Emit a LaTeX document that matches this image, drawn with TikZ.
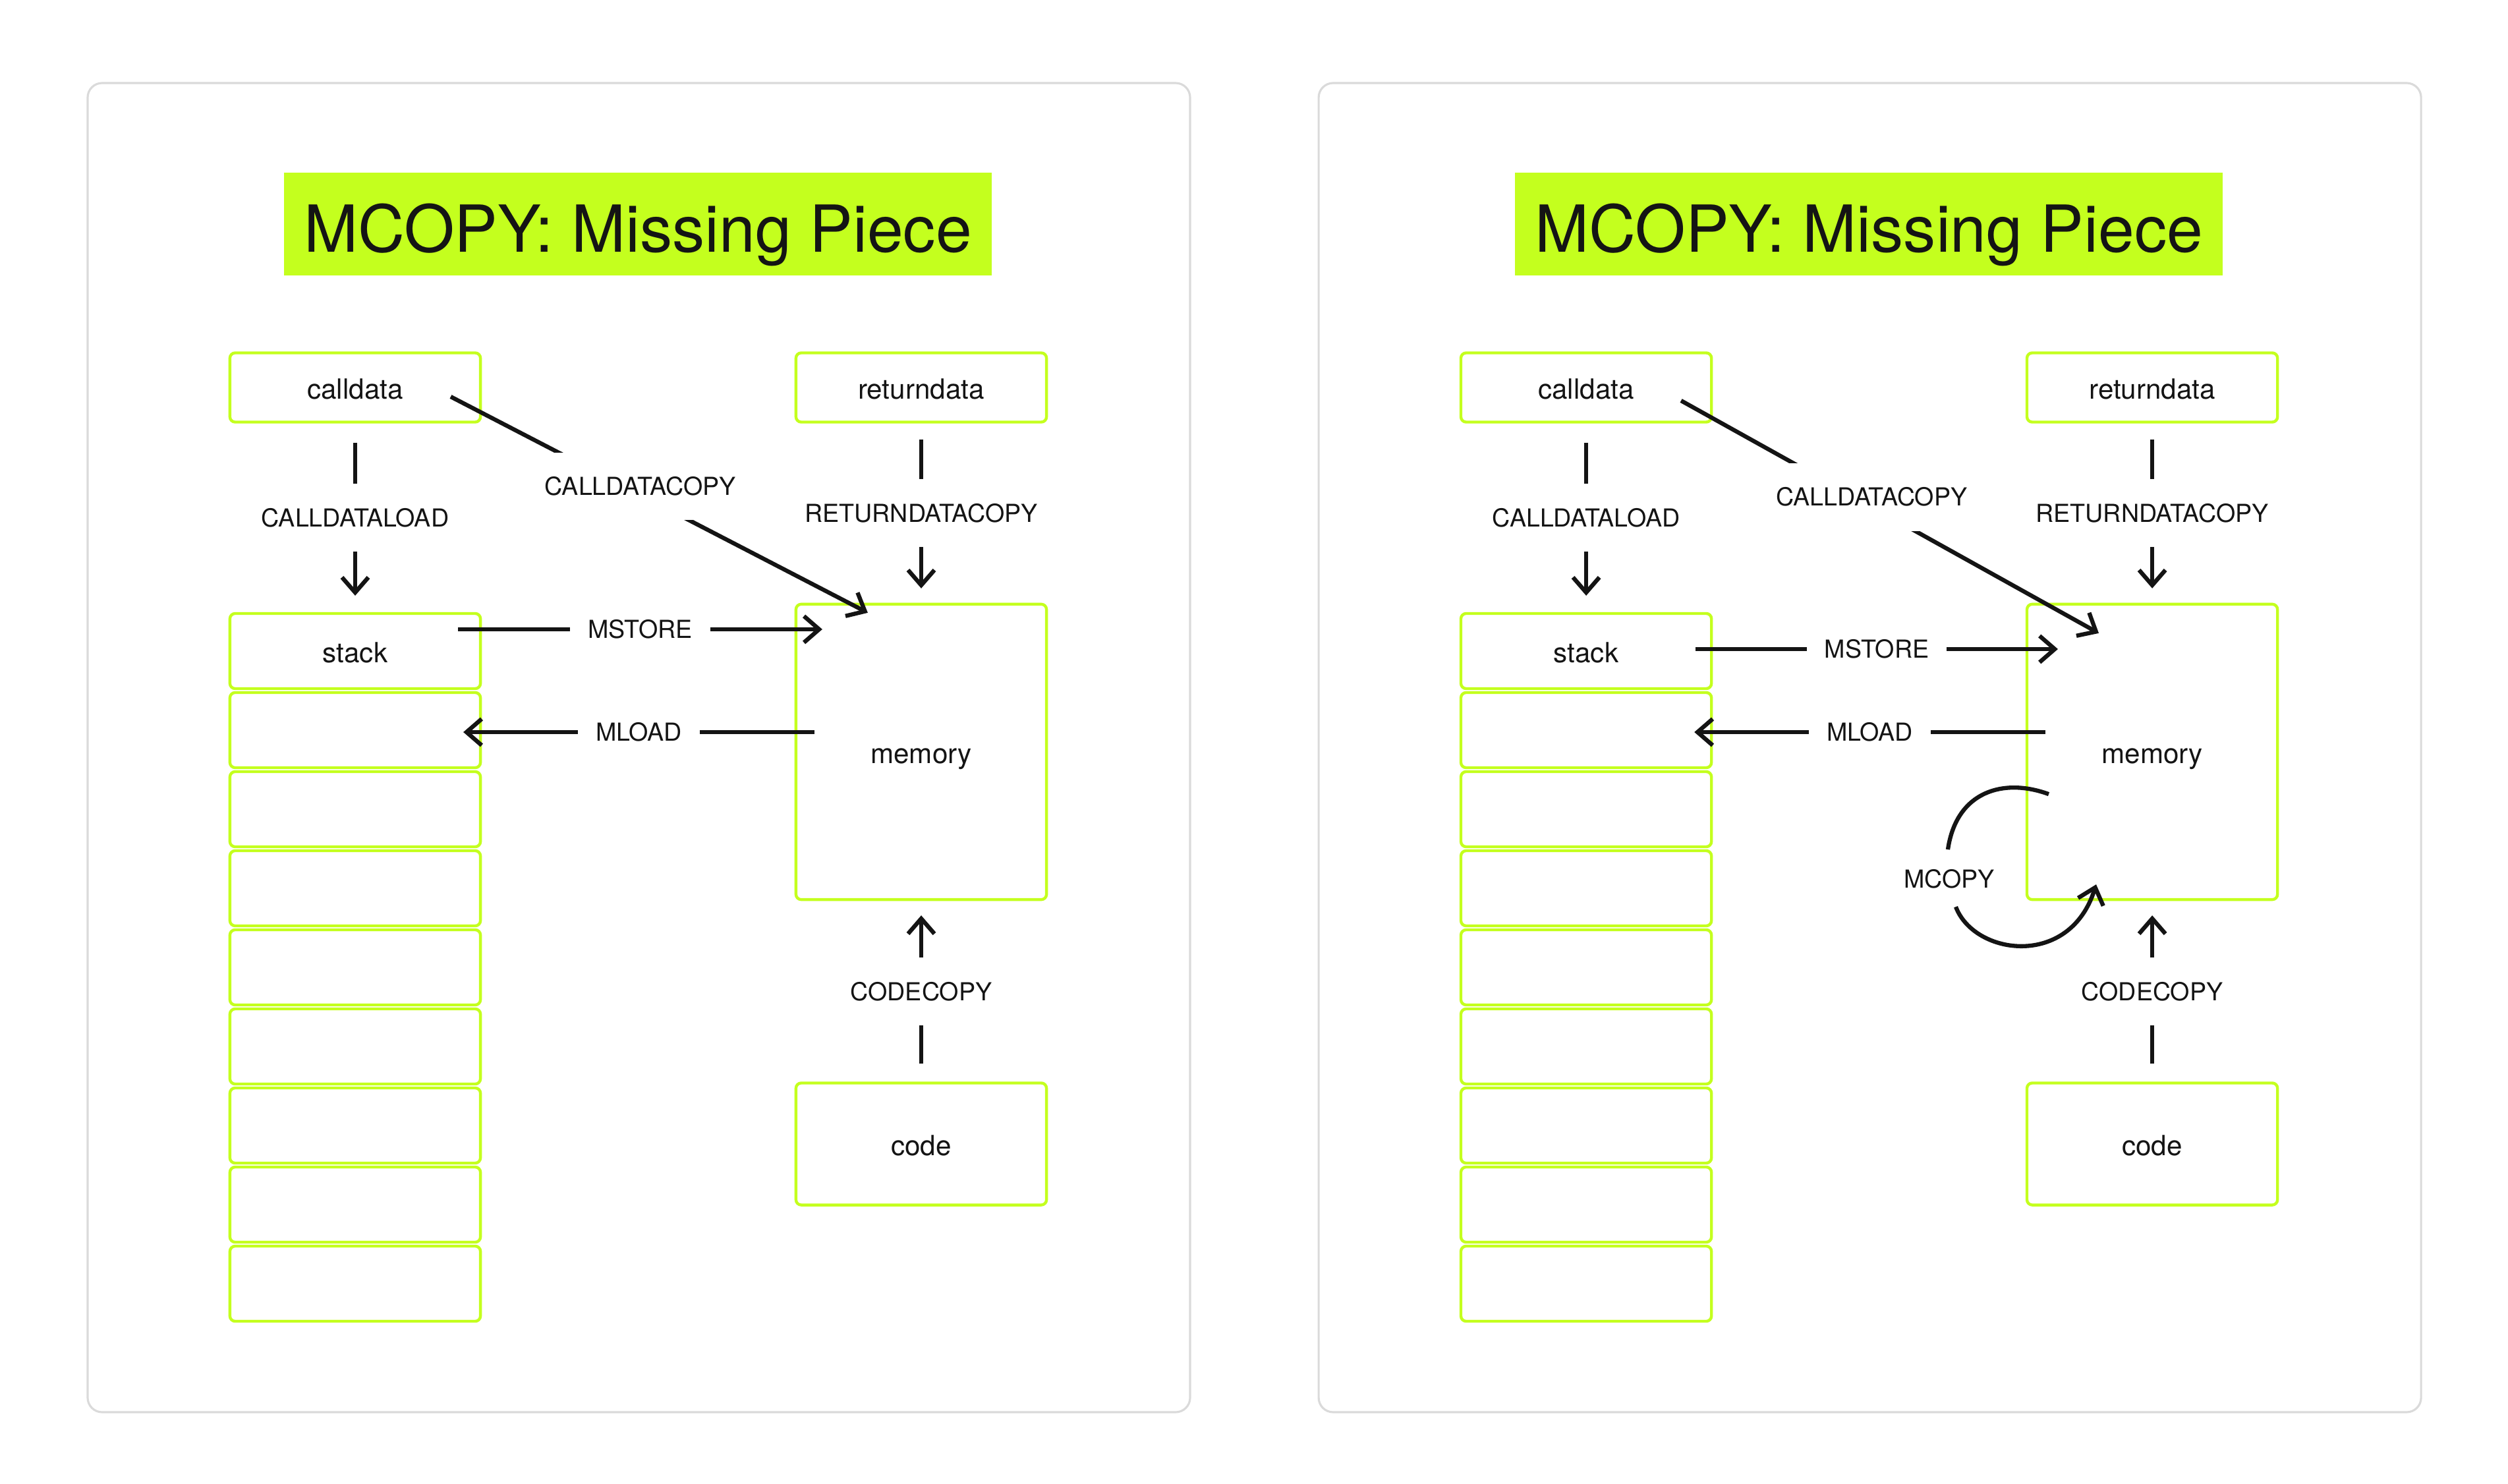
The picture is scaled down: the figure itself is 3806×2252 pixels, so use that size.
\documentclass[tikz,border=0pt]{standalone}
\usepackage{fontspec}
\setmainfont{TeX Gyre Heros}
\usepackage{xcolor}
\usepackage{tikz}
\usetikzlibrary{arrows.meta,calc}

\definecolor{acidgreen}{RGB}{196,255,30}
\definecolor{ink}{RGB}{20,20,20}
\definecolor{framegray}{RGB}{218,218,218}

\tikzset{
  cell/.style={draw=acidgreen,line width=1.25pt,rounded corners=0.08cm,minimum width=3.80cm,
    minimum height=1.14cm,inner sep=0pt,outer sep=0pt,text height=0.34cm,text depth=0pt,
    font=\fontsize{12}{14}\selectfont,text=ink},
  optext/.style={font=\fontsize{10.7}{13}\selectfont,text=ink},
  op/.style={optext,fill=white,inner xsep=0.27cm,inner ysep=0.37cm},
  wire/.style={draw=ink,line width=1.8pt},
  frame/.style={draw=framegray,line width=0.9pt,rounded corners=0.22cm},
  titlebox/.style={fill=acidgreen,minimum width=10.73cm,minimum height=1.56cm,inner sep=0pt,
    text height=0.84cm,text depth=0pt,font=\fontsize{28}{32}\selectfont,text=ink}
}

% parts shared by both panels
\newcommand{\panelbase}{%
  \draw[frame] (133,126) rectangle (1806,2143);
  \node[titlebox] (title) at (968,340) {MCOPY: Missing Piece};
  \node[cell,minimum height=1.05cm] (calldata) at (539,588) {calldata};
  \node[cell,minimum height=1.05cm] (returndata) at (1398,588) {returndata};
  \node[cell] (stack1) at (539,988) {stack};
  \foreach \i in {2,...,9}
    \node[cell] (stack\i) at (539,{868+120*\i}) {};
  \node[cell,minimum height=4.48cm] (memory) at (1398,1141) {memory};
  \node[cell,minimum height=1.85cm] (code) at (1398,1736) {code};
  \draw[wire,->,shorten <=0.31cm,shorten >=0.27cm] (calldata) -- node[op]{CALLDATALOAD} (stack1);
  \draw[wire,->,shorten <=0.26cm,shorten >=0.24cm] (returndata) -- node[op]{RETURNDATACOPY} (memory);
  \draw[wire,->,shorten <=0.29cm,shorten >=0.24cm] (code) -- node[op]{CODECOPY} (memory);
  \draw[wire,->] ($(memory.west |- stack2.east)+(28,3)$) -- node[op]{MLOAD} ($(stack2.east)+(-26,3)$);
}

\begin{document}
\begin{tikzpicture}[x=0.01cm,y=-0.01cm,>={Straight Barb[length=2.3mm,width=4mm]}]
  \useasboundingbox (0,0) rectangle (3806,2252);

  % left panel
  \begin{scope}[name prefix=l-]
    \panelbase
    \draw[wire,->] ($(stack1.east)+(-34,-33)$) -- node[op]{MSTORE} ($(memory.west |- stack1.east)+(40,-33)$);
    \draw[wire,->] ($(calldata.center)+(145,14)$) -- node[op,pos=0.415,xshift=0.25cm]{CALLDATACOPY} ($(memory.north west)+(109,13)$);
  \end{scope}

  % right panel, with MCOPY
  \begin{scope}[xshift=18.67cm,name prefix=r-]
    \panelbase
    \draw[wire,->] ($(stack1.east)+(-24,-3)$) -- node[op]{MSTORE} ($(memory.west |- stack1.east)+(47,-3)$);
    \draw[wire,->] ($(calldata.center)+(144,20)$) -- node[op,pos=0.414,xshift=0.27cm]{CALLDATACOPY} ($(memory.north west)+(109,44)$);
    \node[optext] (mcopy) at ($(memory.south west)+(-118,-31)$) {MCOPY};
    \draw[wire] ($(memory.south west)+(-120,-76)$) .. controls ($(memory.south west)+(-107,-165)$)
      and ($(memory.south west)+(-35,-185)$) .. ($(memory.south west)+(33,-160)$);
    \draw[wire,->] ($(memory.south west)+(-108,11)$) .. controls ($(memory.south west)+(-80,85)$)
      and ($(memory.south west)+(65,105)$) .. ($(memory.south west)+(105,-23)$);
  \end{scope}
\end{tikzpicture}
\end{document}
